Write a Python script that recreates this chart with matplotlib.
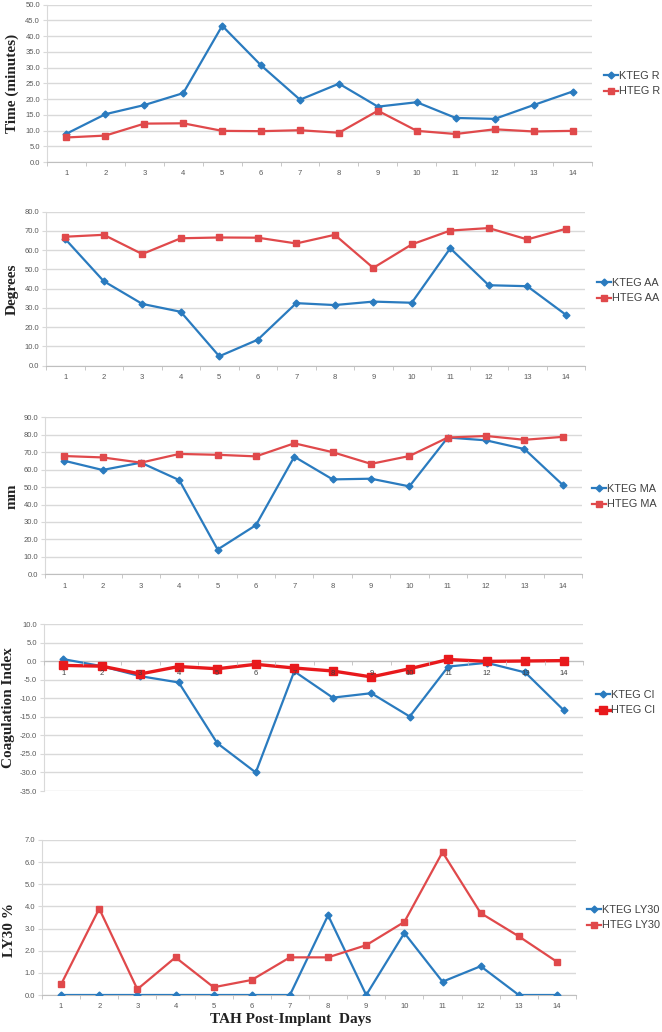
import matplotlib
matplotlib.use("Agg")
import matplotlib.pyplot as plt
from matplotlib.ticker import FixedLocator, FormatStrFormatter

days = list(range(1, 15))

ktegR = [9.0, 15.2, 18.1, 21.9, 43.3, 30.7, 19.8, 24.9, 17.6, 19.0, 14.0, 13.7, 18.1, 22.4]
htegR = [7.8, 8.4, 12.2, 12.3, 9.9, 9.8, 10.1, 9.3, 16.3, 9.9, 8.9, 10.4, 9.7, 9.9]

ktegAA = [65.8, 43.9, 32.1, 28.0, 4.9, 13.5, 32.5, 31.5, 33.3, 32.7, 61.0, 41.8, 41.3, 26.5]
htegAA = [67.0, 68.0, 58.0, 66.2, 66.6, 66.5, 63.5, 68.0, 50.8, 63.0, 70.2, 71.5, 65.6, 71.1]

ktegMA = [65.1, 59.8, 64.0, 54.0, 14.2, 28.2, 67.4, 54.4, 54.8, 50.4, 78.4, 76.8, 71.8, 51.2]
htegMA = [67.8, 67.0, 64.0, 69.0, 68.5, 67.6, 75.1, 70.0, 63.3, 67.8, 78.4, 79.3, 77.1, 78.8]

ktegCI = [0.6, -1.3, -4.0, -5.7, -22.1, -30.0, -2.7, -9.8, -8.6, -14.9, -1.4, -0.4, -3.0, -13.2]
htegCI = [-1.1, -1.3, -3.4, -1.4, -2.0, -0.8, -1.8, -2.6, -4.2, -2.0, 0.5, 0.0, 0.1, 0.2]

ktegLY = [0.0, 0.0, 0.0, 0.0, 0.0, 0.0, 0.0, 3.6, 0.0, 2.8, 0.6, 1.3, 0.0, 0.0]
htegLY = [0.48, 3.9, 0.26, 1.7, 0.35, 0.68, 1.7, 1.7, 2.25, 3.3, 6.45, 3.7, 2.65, 1.5]

ylabels = ["Time (minutes)", "Degrees", "mm", "Coagulation Index", "LY30 %"]
legend_names = [("KTEG R", "HTEG R"), ("KTEG AA", "HTEG AA"), ("KTEG MA", "HTEG MA"),
                ("KTEG CI", "HTEG CI"), ("KTEG LY30", "HTEG LY30")]
ylims = [(0, 50, 5), (0, 80, 10), (0, 90, 10), (-35, 10, 5), (0, 7, 1)]
series = [(ktegR, htegR), (ktegAA, htegAA), (ktegMA, htegMA), (ktegCI, htegCI), (ktegLY, htegLY)]

W, H = 662, 1032
# (left, right, top, bottom) in pixels
boxes = [(47, 592, 4.7, 162), (46, 585, 211.7, 365.7), (45, 582, 417.3, 574.3),
         (44, 583, 624.3, 791), (42, 576, 840, 995)]
legend_y = [79, 286, 492, 698, 913]
legend_x = [604, 597, 592, 596, 587]
ylab_pos = [(12, 83), (12, 289), (12, 496), (9, 708), (10, 930)]

BLUE = "#2a7bbf"
RED = "#e0494b"
RED_CI = "#e8191c"
GRID = "#d9d9d9"
TXT = "#595959"

fig = plt.figure(figsize=(W / 100, H / 100), dpi=100)

for i in range(5):
    l, r, t, b = boxes[i]
    ax = fig.add_axes([l / W, 1 - b / H, (r - l) / W, (b - t) / H])
    k, h = series[i]
    lo, hi, st = ylims[i]
    hcol = RED_CI if i == 3 else RED
    hlw = 2.4 if i == 3 else 1.6
    hms = 6 if i == 3 else 5
    lk, = ax.plot(days, k, color=BLUE, lw=1.6, marker="D", ms=3.5, zorder=3)
    lh, = ax.plot(days, h, color=hcol, lw=hlw, marker="s", ms=hms, zorder=4)
    ax.set_xlim(0.5, 14.5)
    ax.set_ylim(lo, hi)
    yt = [lo + st * j for j in range(int(round((hi - lo) / st)) + 1)]
    ax.set_yticks(yt)
    ax.yaxis.set_major_formatter(FormatStrFormatter("%.1f"))
    ax.set_xticks(days)
    ax.xaxis.set_minor_locator(FixedLocator([0.5 + j for j in range(15)]))
    ax.grid(axis="y", color=GRID, lw=1.0, zorder=0)
    ax.set_axisbelow(True)
    for s in ["top", "right"]:
        ax.spines[s].set_visible(False)
    ax.spines["left"].set_color(GRID)
    ax.spines["bottom"].set_color("#bfbfbf")
    ax.tick_params(axis="y", length=3, color=GRID, labelsize=5.5, labelcolor=TXT, pad=2)
    ax.tick_params(axis="x", which="major", length=0, labelsize=5.5, labelcolor=TXT, pad=6)
    ax.tick_params(axis="x", which="minor", length=3, color="#bfbfbf")
    if i == 3:
        ax.spines["bottom"].set_position(("data", 0))
        ax.tick_params(axis="x", which="major", pad=6, labelcolor="#404040")
        ax.xaxis.set_zorder(5)
    for lab in ax.get_xticklabels() + ax.get_yticklabels():
        lab.set_family("Liberation Sans")
    # legend
    y1 = legend_y[i]
    leg = fig.legend([lk, lh], list(legend_names[i]), loc="upper left",
                     bbox_to_anchor=(legend_x[i] / W, 1 - (y1 - 8) / H), frameon=False,
                     handlelength=1.3, handletextpad=0.1, labelspacing=0.5,
                     borderaxespad=0, borderpad=0,
                     prop={"family": "Liberation Sans", "size": 7.8})
    for tx in leg.get_texts():
        tx.set_color("#404040")
    xl, yl = ylab_pos[i]
    fig.text(xl / W, 1 - yl / H, ylabels[i], rotation=90, ha="center", va="center",
             family="Liberation Serif", fontweight="bold", fontsize=11, color="#222222")

fig.text(291 / W, 1 - 1019 / H, "TAH Post-Implant  Days", ha="center", va="center",
         family="Liberation Serif", fontweight="bold", fontsize=11, color="#222222")

fig.savefig("out.png", dpi=100, facecolor="white")
